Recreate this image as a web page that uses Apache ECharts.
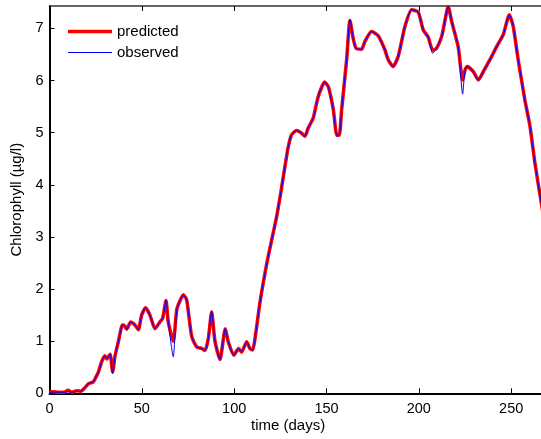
<!DOCTYPE html>
<html>
<head>
<meta charset="utf-8">
<script src="https://cdn.jsdelivr.net/npm/echarts@6/dist/echarts.min.js"></script>
<style>
  html, body { margin: 0; padding: 0; background: #fff; }
  #chart { width: 541px; height: 439px; }
</style>
</head>
<body>
<div id="chart"></div>
<script>
// time axis (days) of the read points
const days = [
  0, 2, 5, 8, 10, 12, 15, 17, 19, 21, 23.7, 25, 26.4, 28.3, 30, 31, 32.8, 34.2, 35.5, 37.3,
  39.5, 40.5, 41.8, 44, 46.3, 48.1, 49.9, 52, 54.4, 57.1, 59.8, 61.3, 63.1, 64.3, 67, 68.9,
  70.7, 72.5, 74.3, 77, 79.7, 82.4, 84.2, 86, 87.8, 89.6, 92.3, 95.2, 96.8, 99.8, 102.4, 104,
  106.8, 108.5, 110, 111.3, 114, 117.6, 120.3, 123, 125.2, 127.5, 129.3, 131.1, 133.8, 136.5,
  138.3, 140.1, 142.8, 145.5, 149, 151, 153.7, 155.6, 156.9, 158.2, 160.9, 162.7, 164.5, 166,
  169, 170.8, 174.4, 178, 181.6, 183.4, 186.1, 188.8, 192.5, 196.1, 199.7, 202.4, 205.1, 207.5,
  209.6, 212.3, 213.6, 215.9, 217.8, 221.3, 223.7, 225, 226.2, 229.5, 232.2, 234.9, 238.5,
  242.1, 245.7, 249, 251.1, 253.8, 257.4, 260.2, 262.9, 266.1, 268
];

const predicted = [
  0.03, 0.03, 0.02, 0.02, 0.06, 0.02, 0.05, 0.04, 0.10, 0.18, 0.22, 0.30, 0.40, 0.61, 0.72, 0.66, 0.75, 0.41, 0.72, 0.99,
  1.31, 1.30, 1.23, 1.37, 1.31, 1.22, 1.50, 1.64, 1.50, 1.24, 1.37, 1.44, 1.78, 1.37, 1.00, 1.60,
  1.78, 1.89, 1.79, 1.09, 0.89, 0.86, 0.82, 1.05, 1.56, 1.00, 0.65, 1.24, 0.99, 0.73, 0.86, 0.79,
  0.99, 0.86, 0.83, 1.05, 1.75, 2.48, 2.94, 3.39, 3.84, 4.35, 4.73, 4.96, 5.04, 4.99,
  4.93, 5.09, 5.28, 5.69, 5.97, 5.88, 5.44, 4.95, 4.95, 5.44, 6.40, 7.15, 6.80, 6.62,
  6.60, 6.75, 6.94, 6.86, 6.59, 6.40, 6.27, 6.46, 7.04, 7.36, 7.31, 6.97, 6.83, 6.58,
  6.62, 6.84, 7.05, 7.42, 7.13, 6.65, 6.01, 6.20, 6.27, 6.17, 6.01, 6.17, 6.40,
  6.65, 6.88, 7.26, 7.04, 6.40, 5.63, 5.12, 4.41, 3.70, 3.30
];

const observed = [
  0.02, 0.02, 0.02, 0.02, 0.03, 0.02, 0.04, 0.04, 0.10, 0.18, 0.22, 0.30, 0.40, 0.61, 0.72, 0.67, 0.75, 0.38, 0.72, 0.99,
  1.31, 1.30, 1.23, 1.37, 1.31, 1.22, 1.50, 1.64, 1.50, 1.24, 1.37, 1.44, 1.78, 1.37, 0.70, 1.60,
  1.78, 1.89, 1.79, 1.09, 0.89, 0.86, 0.82, 1.05, 1.57, 1.00, 0.65, 1.24, 0.99, 0.73, 0.86, 0.79,
  0.99, 0.86, 0.83, 1.05, 1.75, 2.48, 2.94, 3.39, 3.84, 4.35, 4.73, 4.96, 5.04, 4.99,
  4.93, 5.09, 5.28, 5.69, 5.97, 5.88, 5.44, 4.95, 4.95, 5.44, 6.40, 7.17, 6.80, 6.62,
  6.60, 6.75, 6.94, 6.86, 6.59, 6.40, 6.27, 6.46, 7.04, 7.36, 7.31, 6.97, 6.83, 6.52,
  6.62, 6.84, 7.05, 7.42, 7.13, 6.65, 5.74, 6.20, 6.27, 6.17, 6.01, 6.17, 6.40,
  6.65, 6.88, 7.26, 7.04, 6.40, 5.63, 5.12, 4.41, 3.70, 3.30
];

const xTicks = [0, 50, 100, 150, 200, 250];
const yTicks = [0, 1, 2, 3, 4, 5, 6, 7];

// the figure is cut at the right edge, around day 266
const xMax = 266.15;
const yMax = 7.43;

const font = 'Liberation Sans, Arial, Helvetica, sans-serif';

const chart = echarts.init(document.getElementById('chart'));

const pairs = (ys) => days.map((d, i) => [d, ys[i]]);

// legend keys: plain line segments, thick for predicted, thin for observed
const thickKey = 'path://M0,0L0,0M0,5.25L44,5.25L44,8.75L0,8.75ZM44,14L44,14';
const thinKey = 'path://M0,0L0,0M0,6.5L44,6.5L44,7.5L0,7.5ZM44,14L44,14';

chart.setOption({
  animation: false,
  backgroundColor: '#fff',
  textStyle: { fontFamily: font, color: '#000' },
  grid: { left: 49.5, top: 6, right: 0, bottom: 45.7 },
  legend: {
    orient: 'vertical',
    left: 63,
    top: 19,
    itemWidth: 44,
    itemHeight: 14,
    itemGap: 6,
    textStyle: { fontSize: 15, color: '#000', fontFamily: font },
    data: [
      { name: 'predicted', icon: thickKey, itemStyle: { color: '#ff0000' } },
      { name: 'observed', icon: thinKey, itemStyle: { color: '#0000ff' } }
    ]
  },
  xAxis: [{
    type: 'value',
    min: 0,
    max: xMax,
    axisLine: { lineStyle: { color: '#000', width: 2 } },
    axisTick: { inside: true, length: 5, lineStyle: { color: '#000' }, customValues: xTicks },
    axisLabel: { color: '#000', fontSize: 14.5, margin: 8, customValues: xTicks },
    splitLine: { show: false }
  }, {
    type: 'value',
    position: 'top',
    min: 0,
    max: xMax,
    axisLine: { show: true, lineStyle: { color: '#333', width: 1.5 } },
    axisTick: { inside: true, length: 5, lineStyle: { color: '#000' }, customValues: xTicks },
    axisLabel: { show: false },
    splitLine: { show: false }
  }],
  yAxis: {
    type: 'value',
    min: 0,
    max: yMax,
    name: 'Chlorophyll (µg/l)',
    nameLocation: 'middle',
    nameGap: 21,
    nameTextStyle: { fontSize: 15, color: '#000', fontFamily: font },
    axisLine: { show: true, lineStyle: { color: '#000', width: 2 } },
    axisTick: { show: true, inside: true, length: 5, lineStyle: { color: '#000' }, customValues: yTicks },
    axisLabel: { color: '#000', fontSize: 14.5, margin: 6, customValues: yTicks },
    splitLine: { show: false }
  },
  graphic: [{
    type: 'text',
    left: 290 - 39,
    top: 418,
    style: { text: 'time (days)', fontSize: 15, fontFamily: font, fill: '#000' }
  }],
  series: [{
    name: 'predicted',
    type: 'line',
    data: pairs(predicted),
    symbol: 'none',
    smooth: 0.2,
    color: '#ff0000',
    lineStyle: { color: '#ff0000', width: 3.5 },
    z: 2
  }, {
    name: 'observed',
    type: 'line',
    data: pairs(observed),
    symbol: 'none',
    smooth: 0.2,
    color: '#0000ff',
    lineStyle: { color: '#0000ff', width: 1 },
    z: 3
  }]
});
</script>
</body>
</html>
